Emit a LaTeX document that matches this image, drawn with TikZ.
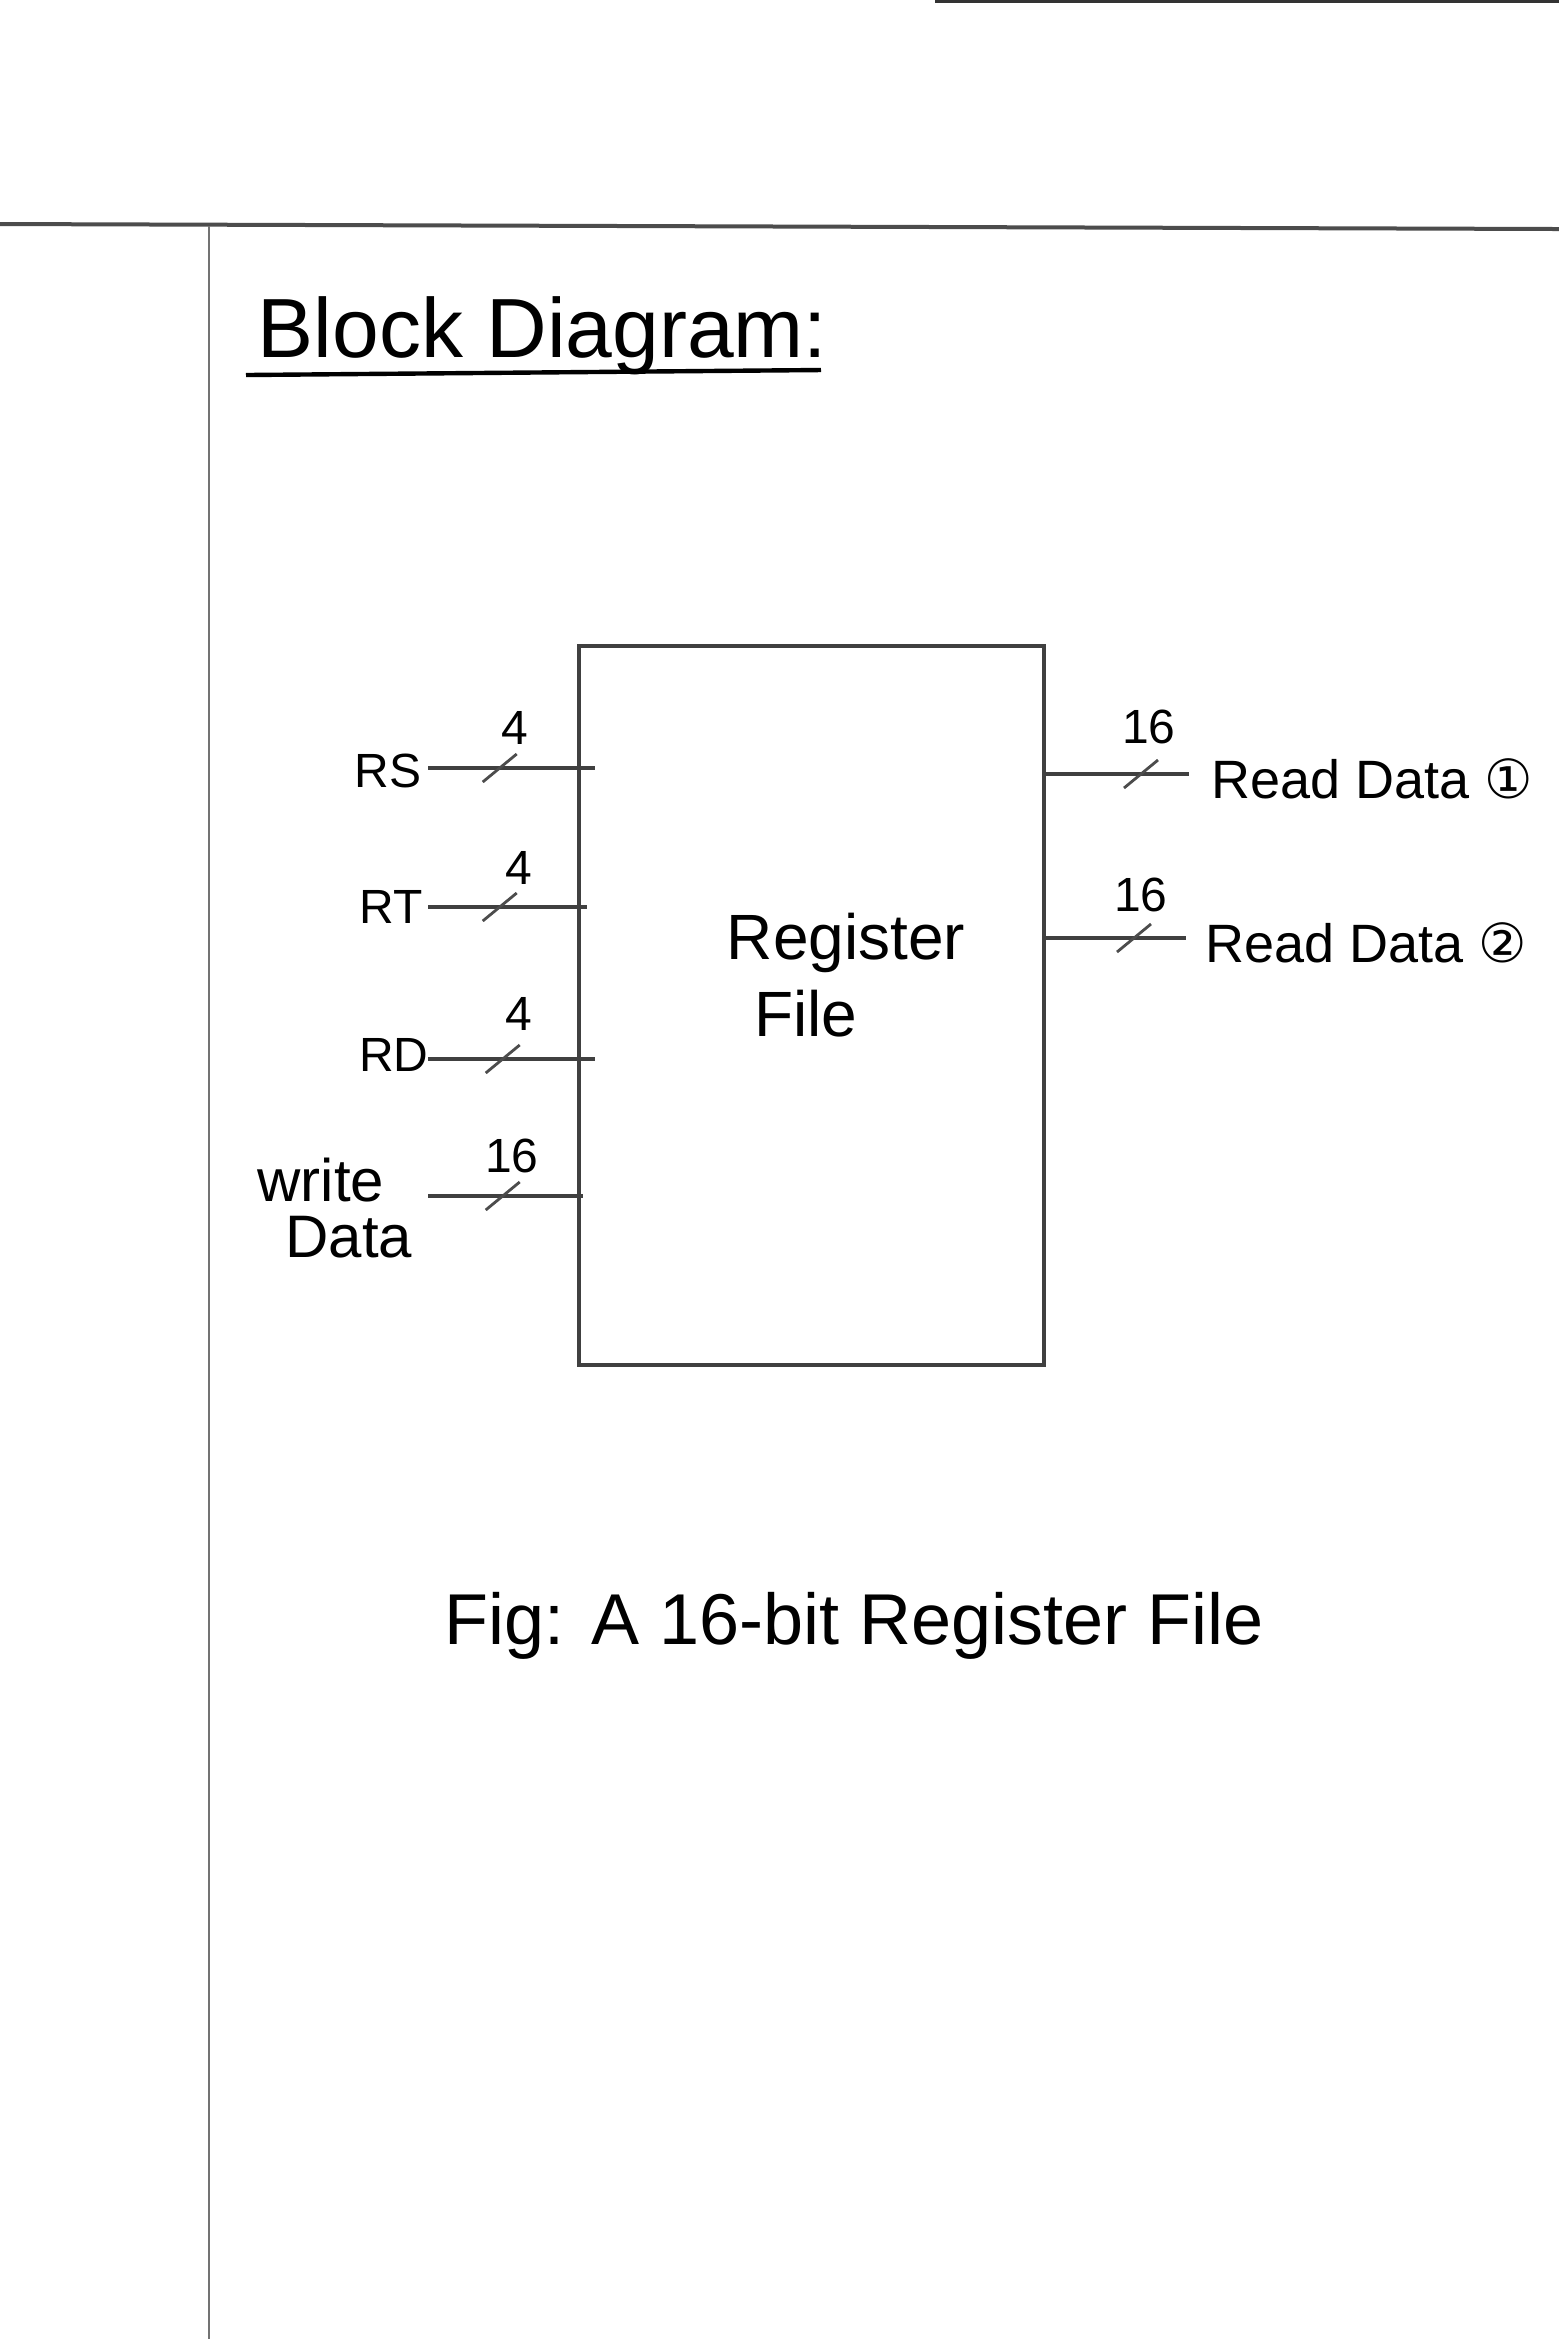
\documentclass[tikz,border=0pt]{standalone}
\usepackage{fontspec}
\setmainfont{Liberation Sans}
\newfontfamily\dejavu{DejaVu Sans}
\usetikzlibrary{calc}
\begin{document}
\begin{tikzpicture}[x=0.25pt,y=-0.25pt,
  wire/.style={draw=black!75, line width=0.8pt},
  busmark/.style={draw=black!70, line width=0.7pt},
  lbl/.style={font=\fontsize{12}{14}\selectfont, inner sep=0pt},
  bits/.style={font=\fontsize{12}{14}\selectfont, inner sep=0pt},
  outlbl/.style={font=\fontsize{13.5}{16}\selectfont, inner sep=0pt, anchor=west}]
\useasboundingbox (0,0) rectangle (1559,2339);
\fill[white] (0,0) rectangle (1559,2339);
% page rules
\draw[black!70, line width=1pt] (0,224) -- (1559,229);
\draw[black!55, line width=0.4pt] (209,226) -- (209,2339);
\draw[black!80, line width=0.8pt] (935,1) -- (1559,1);
% title
\node[font=\fontsize{21}{24}\selectfont, anchor=west, inner sep=0pt] (title) at (257,336) {Block Diagram:};
\draw[line width=1.1pt] (246,375) -- (821,370);
% register file block
\node[draw=black!75, line width=0.8pt, minimum width=116.25pt, minimum height=179.75pt, inner sep=0pt] (rf) at (811.5,1005.5) {};
\node[font=\fontsize{16}{18}\selectfont, inner sep=0pt] (rft1) at (846,943) {Register};
\node[font=\fontsize{16}{18}\selectfont, inner sep=0pt] (rft2) at (806,1014) {File};
% inputs
\node[lbl] (rs) at (388,771) {RS};
\coordinate (rsA) at (428,768);
\draw[wire] (rsA) -- (rf.west |- rsA) -- ++(18,0);
\draw[busmark] ($(rsA)!0.48!(rf.west |- rsA)$) ++(-17,14) -- ++(34,-28);
\node[bits] (rsw) at (515,728) {4};

\node[lbl] (rt) at (391,907) {RT};
\coordinate (rtA) at (428,907);
\draw[wire] (rtA) -- (rf.west |- rtA) -- ++(10,0);
\draw[busmark] ($(rtA)!0.48!(rf.west |- rtA)$) ++(-17,14) -- ++(34,-28);
\node[bits] (rtw) at (519,868) {4};

\node[lbl] (rd) at (394,1055) {RD};
\coordinate (rdA) at (428,1059);
\draw[wire] (rdA) -- (rf.west |- rdA) -- ++(18,0);
\draw[busmark] ($(rdA)!0.5!(rf.west |- rdA)$) ++(-17,14) -- ++(34,-28);
\node[bits] (rdw) at (519,1014) {4};

\node[font=\fontsize{15}{17}\selectfont, inner sep=0pt, align=center] (wd) at (321,1208) {write\\[-3pt]\hspace*{14pt}Data};
\coordinate (wdA) at (428,1196);
\draw[wire] (wdA) -- (rf.west |- wdA) -- ++(6,0);
\draw[busmark] ($(wdA)!0.5!(rf.west |- wdA)$) ++(-17,14) -- ++(34,-28);
\node[bits] (wdw) at (512,1156) {16};
% outputs
\coordinate (r1B) at (1189,774);
\draw[wire] (rf.east |- r1B) -- (r1B);
\draw[busmark] (1141,774) ++(-17,14) -- ++(34,-28);
\node[bits] (r1w) at (1149,727) {16};
\node[outlbl] (r1) at (1211,779) {Read Data {\dejavu ①}};

\coordinate (r2B) at (1186,938);
\draw[wire] (rf.east |- r2B) -- (r2B);
\draw[busmark] (1134,938) ++(-17,14) -- ++(34,-28);
\node[bits] (r2w) at (1141,895) {16};
\node[outlbl] (r2) at (1205,943) {Read Data {\dejavu ②}};
% caption
\node[font=\fontsize{18}{20}\selectfont, inner sep=0pt] (cap) at (854,1626) {Fig: A 16-bit Register File};
\end{tikzpicture}
\end{document}
